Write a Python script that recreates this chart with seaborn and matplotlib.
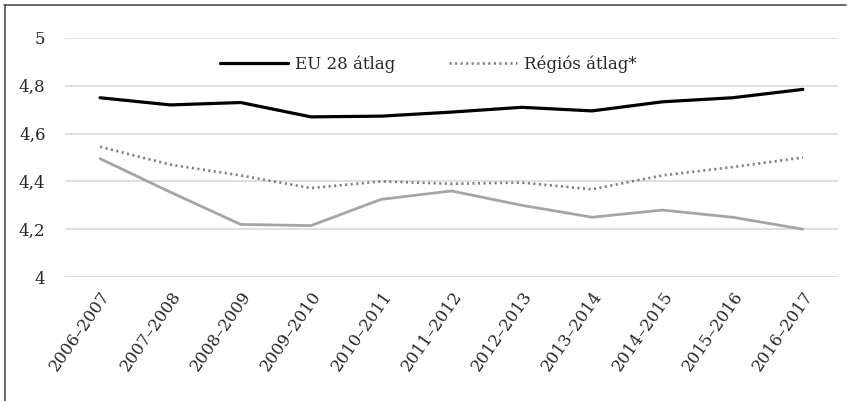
import matplotlib
matplotlib.use("Agg")
import matplotlib.pyplot as plt
import seaborn as sns
import pandas as pd
from matplotlib.lines import Line2D

periods = ["2006–2007", "2007–2008", "2008–2009", "2009–2010", "2010–2011", "2011–2012",
           "2012–2013", "2013–2014", "2014–2015", "2015–2016", "2016–2017"]
eu28 = [4.75, 4.72, 4.73, 4.67, 4.673, 4.69, 4.71, 4.695, 4.733, 4.75, 4.785]
regional = [4.545, 4.47, 4.425, 4.372, 4.40, 4.39, 4.395, 4.367, 4.425, 4.46, 4.50]
country = [4.495, 4.355, 4.22, 4.215, 4.325, 4.36, 4.30, 4.25, 4.28, 4.25, 4.20]
yticks = [4.0, 4.2, 4.4, 4.6, 4.8, 5.0]
ytick_labels = ["4", "4,2", "4,4", "4,6", "4,8", "5"]

sns.set_style("white")
plt.rcParams["font.family"] = ["DejaVu Serif"]

fig = plt.figure(figsize=(8.47, 4.01), dpi=100)
W, H = 847, 401
ax = fig.add_axes([65 / W, 1 - 277 / H, (838 - 65) / W, (277 - 38) / H])

df = pd.DataFrame({"x": range(len(periods)), "eu": eu28, "reg": regional, "cty": country})

sns.lineplot(data=df, x="x", y="cty", ax=ax, color="#a5a5a5", lw=2.0, label="_nolegend_")
sns.lineplot(data=df, x="x", y="reg", ax=ax, color="#7f7f7f", lw=1.9,
             linestyle=(0, (0.8, 1.3)), label="Régiós átlag*")
sns.lineplot(data=df, x="x", y="eu", ax=ax, color="#000000", lw=2.3, label="EU 28 átlag")

ax.set_xlim(-0.5, len(periods) - 0.5)
ax.set_ylim(4.0, 5.0)
ax.set_yticks(yticks)
ax.set_yticklabels(ytick_labels, fontsize=12, color="#262626")
ax.set_xticks(range(len(periods)))
ax.set_xticklabels(periods, rotation=55, ha="right", rotation_mode="anchor",
                   fontsize=12, color="#262626")
ax.tick_params(axis="both", length=0)
ax.tick_params(axis="y", pad=14)
ax.tick_params(axis="x", pad=8)
ax.set_xlabel("")
ax.set_ylabel("")
ax.grid(axis="y", color="#d9d9d9", lw=1.2)
ax.grid(axis="x", visible=False)
for s in ax.spines.values():
    s.set_visible(False)
ax.set_axisbelow(True)

handles, labels = ax.get_legend_handles_labels()
order = [labels.index("EU 28 átlag"), labels.index("Régiós átlag*")]
leg = ax.legend([handles[i] for i in order], [labels[i] for i in order],
                loc="center left", bbox_to_anchor=(220 / W, 1 - 64 / H),
                bbox_transform=fig.transFigure, ncol=2, frameon=False,
                fontsize=12, handlelength=4.1, handletextpad=0.4,
                columnspacing=3.2, borderpad=0, borderaxespad=0)
for t in leg.get_texts():
    t.set_color("#262626")

fig.add_artist(Line2D([4.5 / W, 4.5 / W], [1 - 5 / H, 0], transform=fig.transFigure,
                      color="#404040", lw=1.1))
fig.add_artist(Line2D([4 / W, 846 / W], [1 - 5 / H, 1 - 5 / H], transform=fig.transFigure,
                      color="#404040", lw=1.1))

fig.savefig("out.png", dpi=100)
